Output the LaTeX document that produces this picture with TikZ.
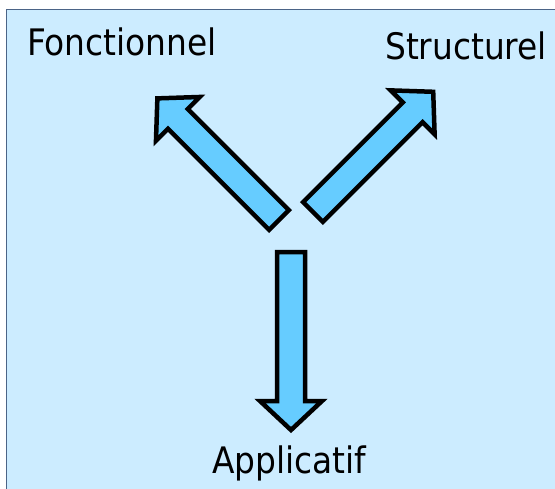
\documentclass[tikz,border=0pt]{standalone}
\usepackage{fontspec}
\setmainfont{DejaVu Sans Condensed}
\usetikzlibrary{calc}

\definecolor{paleblue}{RGB}{204,236,255}
\definecolor{arrowblue}{RGB}{102,204,255}
\definecolor{framegray}{RGB}{75,100,135}

% block arrow from a tail point: #1 = tail, #2 = angle, #3 = length
\newcommand{\blockarrow}[3]{%
  \draw[arrowbody, shift={(#1)}, rotate=#2]
    (0,-14) -- (#3-29,-14) -- (#3-29,-31) -- (#3,0)
    -- (#3-29,31) -- (#3-29,14) -- (0,14) -- cycle;}

\begin{document}
\begin{tikzpicture}[
        x=1pt, y=-1pt,
        arrowbody/.style={fill=arrowblue, draw=black, line width=4.5pt, line join=miter},
        label text/.style={anchor=base west, inner sep=0pt, font=\fontsize{36.5}{44}\selectfont},
        frame/.style={fill=paleblue, draw=framegray, line width=1pt}]

    \useasboundingbox (0,0) rectangle (555,488);

    % background
    \filldraw[frame] (6,9) rectangle (565,498);

    % labels
    \node[label text] (fonct) at (27,55) {Fonctionnel};
    \node[label text] (struct) at (385,59) {Structurel};
    \node[label text] (appli) at (212,473) {Applicatif};

    % arrows
    \coordinate (fonct tail) at (279,220);
    \coordinate (struct tail) at (313,212);
    \coordinate (appli tail) at (291,252);
    \blockarrow{fonct tail}{135}{172}
    \blockarrow{struct tail}{45}{170}
    \blockarrow{appli tail}{-90}{178}
\end{tikzpicture}
\end{document}
